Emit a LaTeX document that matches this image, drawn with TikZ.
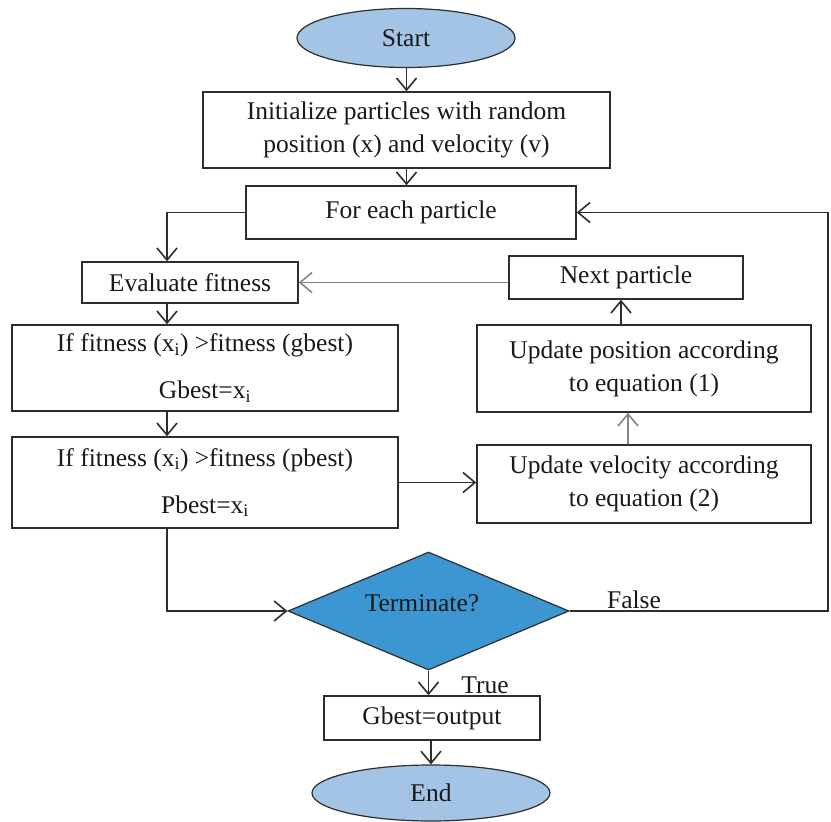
\documentclass[tikz,border=0pt]{standalone}
\usepackage{fontspec}
\setmainfont{Liberation Serif}
\usetikzlibrary{shapes.geometric,arrows.meta}
\definecolor{ellfill}{RGB}{163,196,228}
\definecolor{diafill}{RGB}{60,150,210}
\definecolor{lnc}{RGB}{45,45,45}
\definecolor{grayln}{RGB}{125,135,140}
\definecolor{txt}{RGB}{25,25,25}
\begin{document}
\begin{tikzpicture}[x=1pt,y=-1pt,
  every node/.style={font=\fontsize{25.5}{33}\selectfont, text=txt},
  boxnode/.style={draw=lnc, line width=1.5pt, rectangle, inner sep=0pt, align=center},
  ellnode/.style={draw=lnc, line width=1.2pt, ellipse, fill=ellfill, inner sep=0pt},
  dianode/.style={draw=lnc, line width=1.2pt, diamond, fill=diafill, inner sep=0pt},
  arr/.style={draw=lnc, line width=1.5pt, -{Straight Barb[length=12pt,width=20pt,line width=1.6pt]}},
  garr/.style={draw=grayln, line width=1.8pt, -{Straight Barb[length=12pt,width=20pt,line width=1.6pt]}}]
\useasboundingbox (0,0) rectangle (831,822);
\node[ellnode, minimum width=218pt, minimum height=59pt] (start) at (406,38) {Start};
\node[boxnode, minimum width=407pt, minimum height=76pt] (init) at (406.5,130)
  {Initialize particles with random\\position (x) and velocity (v)};
\node[boxnode, minimum width=330pt, minimum height=53pt] (each) at (411,212.5) {For each particle};
\node[boxnode, minimum width=216pt, minimum height=41pt] (eval) at (190,282.5) {Evaluate fitness};
\node[boxnode, minimum width=234pt, minimum height=43pt] (next) at (626,277.5) {Next particle};
\node[boxnode, minimum width=334pt, minimum height=87pt] (pos) at (644,368.5)
  {Update position according\\to equation (1)};
\node[boxnode, minimum width=334pt, minimum height=78pt] (vel) at (644,484)
  {Update velocity according\\to equation (2)};
\node[boxnode, minimum width=386pt, minimum height=86pt] (gb) at (205,368)
  {If fitness (x\textsubscript{i}) >fitness (gbest)\\[14pt]Gbest=x\textsubscript{i}};
\node[boxnode, minimum width=386pt, minimum height=91pt] (pb) at (205,482.5)
  {If fitness (x\textsubscript{i}) >fitness (pbest)\\[14pt]Pbest=x\textsubscript{i}};
\node[dianode, minimum width=281pt, minimum height=118pt, aspect=2.38] (term) at (428.5,611) {};
\node (termtxt) at (422,603) {Terminate?};
\node[boxnode, minimum width=216pt, minimum height=44pt] (out) at (432,718) {Gbest=output};
\node[ellnode, minimum width=238pt, minimum height=56pt] (end) at (431,793) {End};
\node (false) at (634,600) {False};
\node (true) at (485,685) {True};
\coordinate (rt) at (828,0);

\draw[arr] (start.south -| init.north) -- (init.north);
\draw[arr] (init.south) -- (init.south |- each.north);
\draw[arr] (each.west) -| ([xshift=-23pt]eval.north);
\draw[garr] (next.west |- eval.east) -- (eval.east);
\draw[arr] ([xshift=-23pt]eval.south) -- ([xshift=-23pt]eval.south |- gb.north);
\draw[arr] ([xshift=-38pt]gb.south) -- ([xshift=-38pt]pb.north);
\draw[arr] (pb.east) -- (pb.east -| vel.west);
\draw[garr] ([xshift=-16pt]vel.north) -- ([xshift=-16pt]pos.south);
\draw[arr] ([xshift=-5pt]next.south |- pos.north) -- ([xshift=-5pt]next.south);
\draw[arr] ([xshift=-38pt]pb.south) |- (term.west);
\draw[arr] (term.east) -| (rt |- each.east) -- (each.east);
\draw[arr] (term.south) -- (term.south |- out.north);
\draw[arr] (out.south -| end.north) -- (end.north);
\end{tikzpicture}
\end{document}
